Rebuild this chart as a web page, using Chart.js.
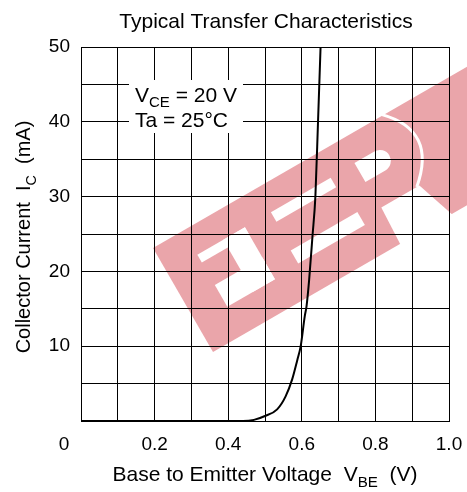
<!DOCTYPE html>
<html lang="en">
<head>
    <meta charset="UTF-8">
    <title>Typical Transfer Characteristics</title>
    <script src="https://cdn.jsdelivr.net/npm/chart.js"></script>
    <style>
        html, body { margin: 0; padding: 0; background: #fff; }
        #wrap { width: 467px; height: 492px; }
    </style>
</head>
<body>
    <div id="wrap"><canvas id="transferChart" width="467" height="492"></canvas></div>

    <script>
        // values
        const vbeValues = [0, 0.44, 0.47, 0.50, 0.533, 0.556, 0.574, 0.588, 0.597, 0.608, 0.613, 0.620, 0.629, 0.637, 0.644, 0.651];
        const icValues = [0, 0, 0.15, 0.67, 1.56, 3.3, 5.6, 8.2, 10, 14, 15.4, 18.9, 24.7, 30.1, 39.9, 50];
        const xTickLabels = ['0.2', '0.4', '0.6', '0.8', '1.0'];
        const yTickLabels = ['10', '20', '30', '40', '50'];

        const FONT = '"Liberation Sans", Arial, Helvetica, sans-serif';

        // draws text made of normal + subscript pieces, centred on cx
        function drawParts(ctx, parts, cx, y, size) {
            let total = 0;
            parts.forEach(p => {
                ctx.font = (p.sub ? size * 0.72 : size) + 'px ' + FONT;
                p.w = ctx.measureText(p.t).width;
                total += p.w;
            });
            let x = cx - total / 2;
            parts.forEach(p => {
                ctx.font = (p.sub ? size * 0.72 : size) + 'px ' + FONT;
                ctx.fillText(p.t, x, p.sub ? y + size * 0.28 : y);
                x += p.w;
            });
        }

        const decorations = {
            id: 'decorations',
            beforeDraw(chart) {
                const ctx = chart.ctx;
                ctx.save();
                ctx.fillStyle = '#fff';
                ctx.fillRect(0, 0, chart.width, chart.height);

                // red watermark band
                ctx.translate(153, 248);
                ctx.rotate(-Math.PI / 6);
                ctx.fillStyle = 'rgb(234,165,170)';
                ctx.fillRect(0, 0, 400, 120);
                ctx.fillStyle = '#fff';
                // first letter
                ctx.fillRect(35, 28, 55, 9);
                ctx.fillRect(65, 28, 25, 60);
                ctx.fillRect(35, 63, 55, 25);
                // second letter
                ctx.fillRect(120, 28, 69, 11);
                ctx.fillRect(118, 71, 77, 15);
                // P
                ctx.beginPath();
                ctx.moveTo(217, 27);
                ctx.lineTo(240, 27);
                ctx.arc(240, 38, 11, -Math.PI / 2, Math.PI / 2);
                ctx.lineTo(217, 49);
                ctx.closePath();
                ctx.fill();
                ctx.beginPath();
                ctx.moveTo(218, 79);
                ctx.lineTo(262, 79);
                ctx.lineTo(276, 121);
                ctx.lineTo(216, 121);
                ctx.closePath();
                ctx.fill();
                ctx.strokeStyle = '#fff';
                ctx.lineWidth = 3;
                ctx.beginPath();
                ctx.moveTo(265, -1);
                ctx.quadraticCurveTo(305, 40, 259, 79);
                ctx.stroke();
                ctx.restore();
            },
            afterDraw(chart) {
                const ctx = chart.ctx;
                ctx.save();
                ctx.fillStyle = '#000';
                ctx.textBaseline = 'alphabetic';
                ctx.textAlign = 'left';

                // title
                drawParts(ctx, [{ t: 'Typical Transfer Characteristics' }], 266, 28, 21);

                // origin label
                ctx.font = '19px ' + FONT;
                ctx.textAlign = 'center';
                ctx.fillText('0', 64, 450);
                ctx.textAlign = 'left';

                // conditions box
                ctx.fillStyle = '#fff';
                ctx.fillRect(129, 80, 114, 53);
                ctx.fillStyle = '#000';
                ctx.font = '21px ' + FONT;
                ctx.fillText('V', 135, 102);
                let x = 135 + ctx.measureText('V').width;
                ctx.font = '15px ' + FONT;
                ctx.fillText('CE', x, 107);
                x += ctx.measureText('CE').width;
                ctx.font = '21px ' + FONT;
                ctx.fillText(' = 20 V', x, 102);
                ctx.fillText('Ta = 25\u00B0C', 135, 127);

                // axis titles
                drawParts(ctx, [
                    { t: 'Base to Emitter Voltage  V' }, { t: 'BE', sub: true }, { t: '  (V)' }
                ], 265, 481, 21);

                ctx.translate(30, 237);
                ctx.rotate(-Math.PI / 2);
                drawParts(ctx, [
                    { t: 'Collector Current  I' }, { t: 'C', sub: true }, { t: '  (mA)' }
                ], 0, 0, 20);
                ctx.restore();
            }
        };

        const points = vbeValues.map((v, i) => ({ x: v, y: icValues[i] }));

        new Chart(document.getElementById('transferChart'), {
            type: 'line',
            data: {
                datasets: [{
                    data: points,
                    borderColor: '#000',
                    borderWidth: 2,
                    pointRadius: 0,
                    fill: false,
                    cubicInterpolationMode: 'monotone'
                }]
            },
            options: {
                responsive: false,
                animation: false,
                events: [],
                layout: { padding: { top: 47, right: 18, left: 0, bottom: 0 } },
                plugins: { legend: { display: false }, tooltip: { enabled: false } },
                scales: {
                    x: {
                        type: 'linear',
                        min: 0,
                        max: 1,
                        afterFit(scale) {
                            scale.height = 71;
                            scale.paddingLeft = 0;
                            scale.paddingRight = 0;
                        },
                        grid: { color: '#000', lineWidth: 1, drawTicks: false },
                        border: { color: '#000', width: 1 },
                        ticks: {
                            stepSize: 0.1,
                            padding: 12,
                            maxRotation: 0,
                            autoSkip: false,
                            color: '#000',
                            font: { family: FONT, size: 19 },
                            callback(value) {
                                const k = Math.round(value * 10);
                                return (k > 0 && k % 2 === 0) ? xTickLabels[k / 2 - 1] : '';
                            }
                        }
                    },
                    y: {
                        min: 0,
                        max: 50,
                        afterFit(scale) {
                            scale.width = 81;
                            scale.paddingTop = 0;
                            scale.paddingBottom = 0;
                        },
                        grid: { color: '#000', lineWidth: 1, drawTicks: false },
                        border: { color: '#000', width: 1 },
                        ticks: {
                            stepSize: 5,
                            padding: 11,
                            autoSkip: false,
                            color: '#000',
                            font: { family: FONT, size: 19 },
                            callback(value) {
                                const k = Math.round(value);
                                return (k > 0 && k % 10 === 0) ? yTickLabels[k / 10 - 1] : '';
                            }
                        }
                    }
                }
            },
            plugins: [decorations]
        });
    </script>
</body>
</html>
